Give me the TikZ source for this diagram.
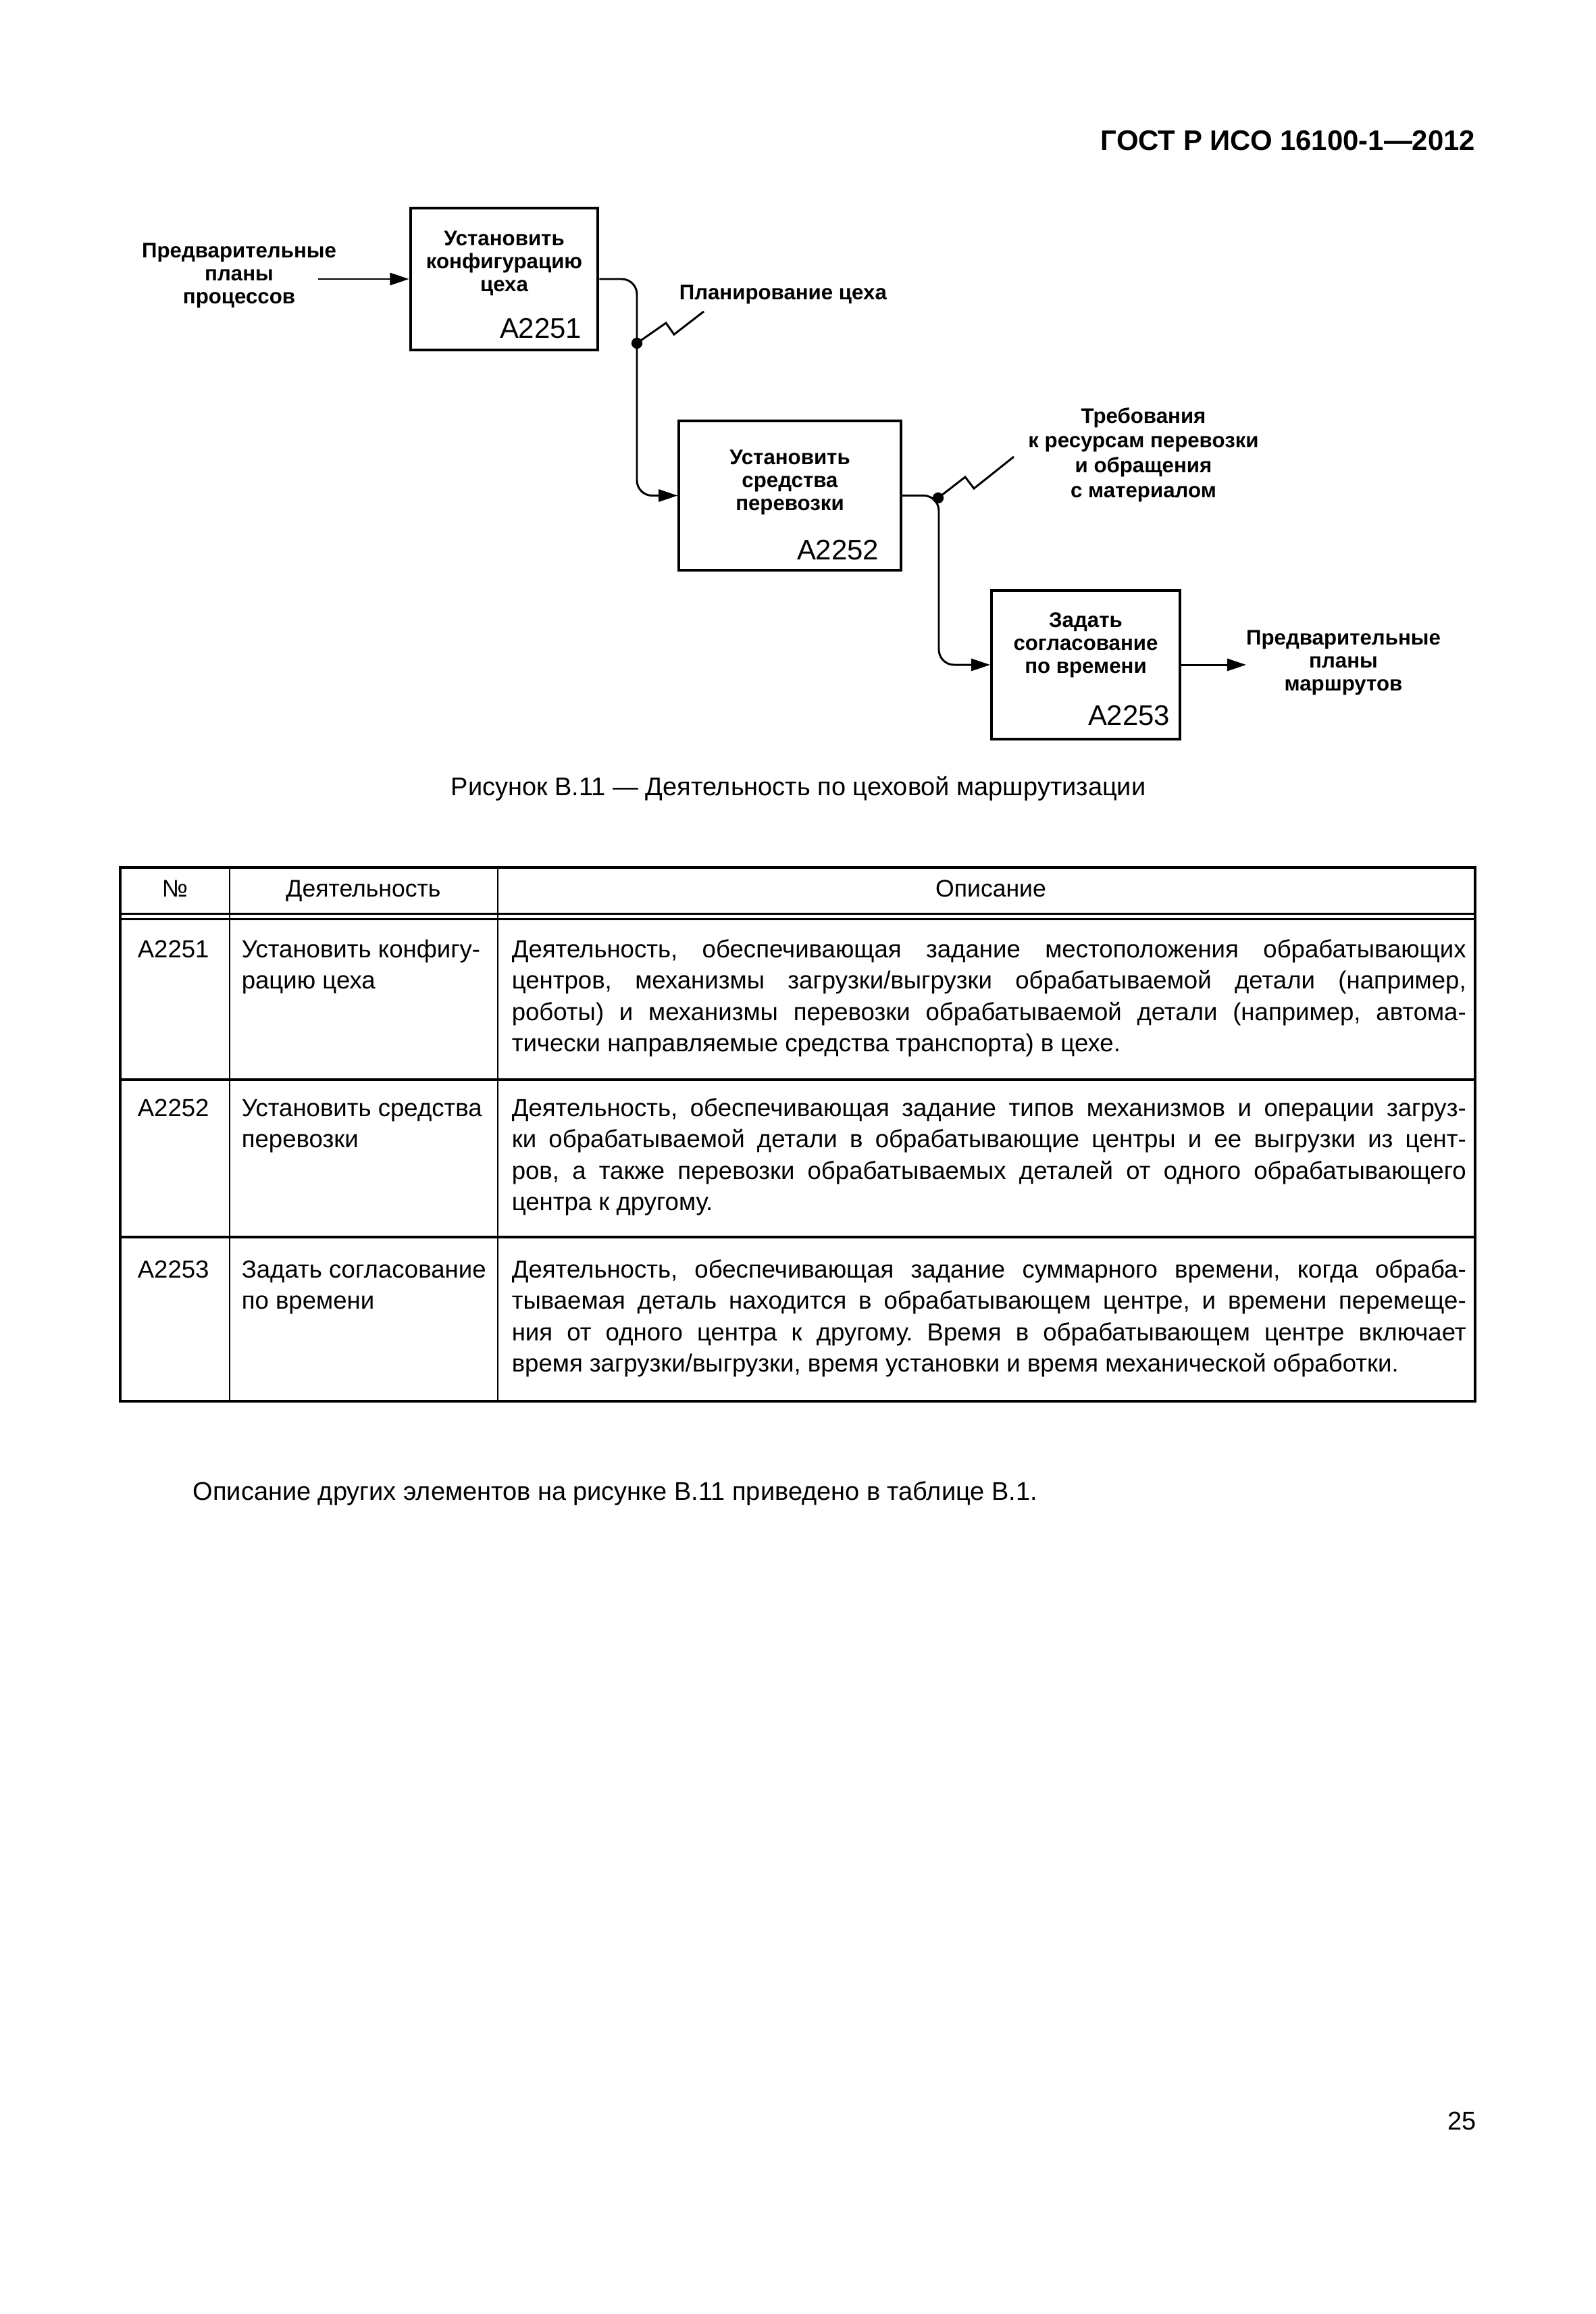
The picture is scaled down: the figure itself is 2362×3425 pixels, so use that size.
\documentclass[tikz,border=0pt]{standalone}
\usepackage{fontspec}
\setmainfont{Liberation Sans}
\usetikzlibrary{arrows.meta}
\frenchspacing
\newcommand{\lbfont}{\bfseries\fontsize{7.9}{8.6}\selectfont}
\newcommand{\idfont}{\fontsize{10.6}{12}\selectfont}
\newcommand{\hdfont}{\fontsize{9}{11}\selectfont}
\newcommand{\tabfont}{\fontsize{9.25}{11.77}\selectfont}
\newcommand{\txtfont}{\fontsize{9.6}{12}\selectfont}
\newcommand{\jl}[1]{\makebox[\linewidth][s]{#1}\\}
\newcommand{\cellbox}[2]{\parbox[t]{#1}{\tabfont #2}}

\begin{document}
\begin{tikzpicture}[x=0.0889mm,y=-0.0889mm]
\tikzstyle{every node}+=[inner sep=0pt]
\tikzstyle{blk}=[draw,rectangle,line width=1pt]
\tikzstyle{lbl}=[align=center,font=\lbfont]
\tikzstyle{conn}=[line width=0.75pt]
\tikzstyle{arr}=[conn,-{Triangle[length=2.5mm,width=1.6mm]}]
\tikzstyle{dot}=[circle,fill,minimum size=1.45mm]
\useasboundingbox (0,0) rectangle (2362,3425);
\node [anchor=base east,font=\bfseries\fontsize{10.6}{12}\selectfont] (gost) at (2185,222) {ГОСТ Р ИСО 16100-1—2012};
\node [blk,minimum width=24.7mm,minimum height=18.7mm] (b1) at (746.5,413) {};
\node [lbl] (t1) at (746.5,390) {Установить\\конфигурацию\\цеха};
\node [anchor=base east,font=\idfont] (id1) at (862,500) {A2251};
\node [blk,minimum width=29.2mm,minimum height=19.7mm] (b2) at (1169.5,733.5) {};
\node [lbl] (t2) at (1169.5,714) {Установить\\средства\\перевозки};
\node [anchor=base east,font=\idfont] (id2) at (1302,828) {A2252};
\node [blk,minimum width=24.8mm,minimum height=19.6mm] (b3) at (1607.5,984) {};
\node [lbl] (t3) at (1607.5,955) {Задать\\согласование\\по времени};
\node [anchor=base east,font=\idfont] (id3) at (1733,1073) {A2253};
\node [lbl] (inp) at (354,408) {Предварительные\\планы\\процессов};
\coordinate (in1) at (471,413);
\draw [arr] (in1) -- (b1.west);
\node [dot] (j1) at (943,508) {};
\coordinate (c1) at (943,600);
\draw [arr,rounded corners=2mm] (b1.east) -| (c1) |- (b2.west);
\draw [conn] (j1.center) -- ++(43,-30) -- ++(12,17) -- ++(44,-34);
\node [anchor=base west,font=\lbfont] (plan) at (1005,443) {Планирование цеха};
\node [dot] (j2) at (1389,737) {};
\coordinate (c2) at (1390,860);
\draw [arr,rounded corners=2mm] (b2.east) -| (c2) |- (b3.west);
\draw [conn] (j2.center) -- ++(40,-31) -- ++(13,17) -- ++(59,-47);
\node [align=center,font=\bfseries\fontsize{7.9}{9.3}\selectfont] (req) at (1693,673) {Требования\\к ресурсам перевозки\\и обращения\\с материалом};
\coordinate (out3) at (1845,984);
\draw [arr] (b3.east) -- (out3);
\node [lbl] (outp) at (1989,981) {Предварительные\\планы\\маршрутов};
\node [anchor=base,font=\txtfont] (cap) at (1182,1177) {Рисунок В.11 — Деятельность по цеховой маршрутизации};
\draw [line width=1pt] (178,1284) rectangle (2184,2074);
\draw [line width=0.75pt] (340,1284) -- (340,2074) (737,1284) -- (737,2074);
\draw [line width=0.75pt] (178,1352) -- (2184,1352) (178,1360) -- (2184,1360);
\draw [line width=1.1pt] (178,1598) -- (2184,1598) (178,1831) -- (2184,1831);
\node [anchor=base,font=\hdfont] (hnum) at (259,1327) {№};
\node [anchor=base,font=\hdfont] (hact) at (538,1327) {Деятельность};
\node [anchor=base,font=\hdfont] (hdesc) at (1467,1327) {Описание};
\node [anchor=base west,font=\tabfont] (n1) at (203,1417) {A2251};
\node [anchor=base west] (a1) at (357,1417) {\cellbox{35mm}{Установить конфигу-\\рацию цеха}};
\node [anchor=base west] (d1) at (757,1417) {\cellbox{125.6mm}{\jl{Деятельность, обеспечивающая задание местоположения обрабатывающих}\jl{центров, механизмы загрузки/выгрузки обрабатываемой детали (например,}\jl{роботы) и механизмы перевозки обрабатываемой детали (например, автома-}тически направляемые средства транспорта) в цехе.}};
\node [anchor=base west,font=\tabfont] (n2) at (203,1652) {A2252};
\node [anchor=base west] (a2) at (357,1652) {\cellbox{35mm}{Установить средства\\перевозки}};
\node [anchor=base west] (d2) at (757,1652) {\cellbox{125.6mm}{\jl{Деятельность, обеспечивающая задание типов механизмов и операции загруз-}\jl{ки обрабатываемой детали в обрабатывающие центры и ее выгрузки из цент-}\jl{ров, а также перевозки обрабатываемых деталей от одного обрабатывающего}центра к другому.}};
\node [anchor=base west,font=\tabfont] (n3) at (203,1891) {A2253};
\node [anchor=base west] (a3) at (357,1891) {\cellbox{35mm}{Задать согласование\\по времени}};
\node [anchor=base west] (d3) at (757,1891) {\cellbox{125.6mm}{\jl{Деятельность, обеспечивающая задание суммарного времени, когда обраба-}\jl{тываемая деталь находится в обрабатывающем центре, и времени перемеще-}\jl{ния от одного центра к другому. Время в обрабатывающем центре включает}время загрузки/выгрузки, время установки и время механической обработки.}};
\node [anchor=base west,font=\txtfont] (note) at (285,2220) {Описание других элементов на рисунке В.11 приведено в таблице В.1.};
\node [anchor=base east,font=\txtfont] (pg) at (2186,3152) {25};
\end{tikzpicture}
\end{document}
